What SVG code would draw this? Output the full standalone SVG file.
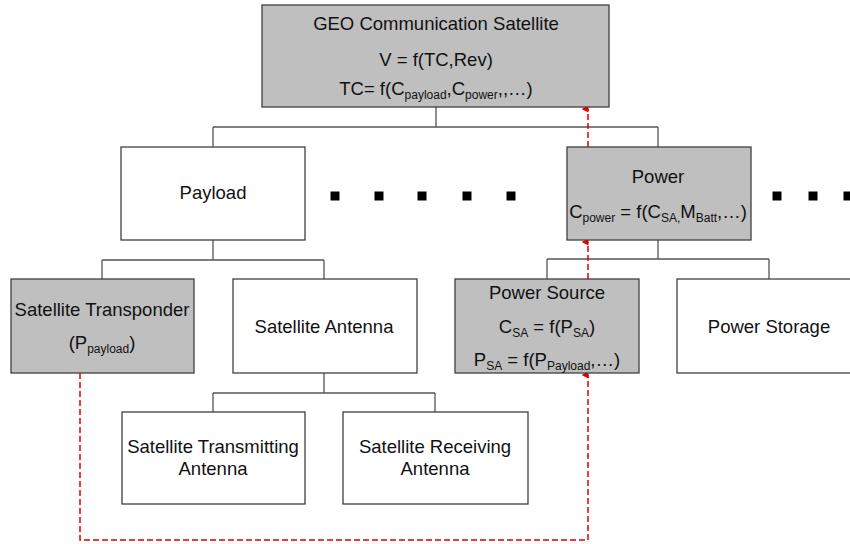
<svg xmlns="http://www.w3.org/2000/svg" width="850" height="544" viewBox="0 0 850 544">
<defs>
<style>
.box{stroke:#404040;stroke-width:1.3}
.g{fill:#bfbfbf}
.w{fill:#ffffff}
text{font-family:"Liberation Sans",Arial,sans-serif;font-size:18.5px;fill:#111;text-anchor:middle}
.s{font-size:12px}
.conn{fill:none;stroke:#555;stroke-width:1.3}
.red{fill:none;stroke:#e00000;stroke-width:1.5;stroke-dasharray:6 3}
.dot{fill:#000}
</style>
<marker id="ah" markerWidth="7" markerHeight="7" refX="3.5" refY="6.5" orient="auto-start-reverse" markerUnits="userSpaceOnUse" viewBox="0 0 7 7">
<path d="M0,7 L3.5,0 L7,7 Z" fill="#e00000"/>
</marker>
</defs>
<rect width="850" height="544" fill="#fff"/>
<g id="connectors">
<path class="conn" d="M436,107 V127 M213,127 H658 M213,127 V147 M658,127 V147"/>
<path class="conn" d="M213,240 V260 M102,260 H324 M102,260 V279 M324,260 V279"/>
<path class="conn" d="M658,240 V259 M547,259 H769 M547,259 V279 M769,259 V279"/>
<path class="conn" d="M324,373 V393 M213,393 H435 M213,393 V412 M435,393 V412"/>
<path class="red" d="M588,147 V109" marker-end="url(#ah)"/>
<path class="red" d="M588,279 V242" marker-end="url(#ah)"/>
<path class="red" d="M80,373 V540 H588 V375" marker-end="url(#ah)"/>
</g>
<g id="dots">
<rect class="dot" x="330.5" y="191.5" width="9" height="9"/>
<rect class="dot" x="374.5" y="191.5" width="9" height="9"/>
<rect class="dot" x="417.5" y="191.5" width="9" height="9"/>
<rect class="dot" x="462.5" y="191.5" width="9" height="9"/>
<rect class="dot" x="506.5" y="191.5" width="9" height="9"/>
<rect class="dot" x="772.5" y="191.5" width="9" height="9"/>
<rect class="dot" x="808.5" y="191.5" width="9" height="9"/>
<rect class="dot" x="843.5" y="191.5" width="9" height="9"/>
</g>
<g id="geo">
<rect class="box g" x="262" y="5" width="347" height="102"/>
<text x="436" y="30">GEO Communication Satellite</text>
<text x="436" y="66">V = f(TC,Rev)</text>
<text x="436" y="95">TC= f(C<tspan class="s" dy="4">payload</tspan><tspan dy="-4">,C</tspan><tspan class="s" dy="4">power</tspan><tspan dy="-4">,,…)</tspan></text>
</g>
<g id="payload">
<rect class="box w" x="121" y="147" width="184" height="93"/>
<text x="213" y="199">Payload</text>
</g>
<g id="power">
<rect class="box g" x="567" y="147" width="184" height="93"/>
<text x="658" y="183">Power</text>
<text x="658" y="218">C<tspan class="s" dy="4">power</tspan><tspan dy="-4"> = f(C</tspan><tspan class="s" dy="4">SA,</tspan><tspan dy="-4">M</tspan><tspan class="s" dy="4">Batt</tspan><tspan dy="-4">,…)</tspan></text>
</g>
<g id="transponder">
<rect class="box g" x="11" y="279" width="183" height="94"/>
<text x="102" y="316">Satellite Transponder</text>
<text x="102" y="349">(P<tspan class="s" dy="4">payload</tspan><tspan dy="-4">)</tspan></text>
</g>
<g id="antenna">
<rect class="box w" x="233" y="279" width="184" height="94"/>
<text x="324" y="333">Satellite Antenna</text>
</g>
<g id="powersource">
<rect class="box g" x="455" y="279" width="184" height="94"/>
<text x="547" y="299">Power Source</text>
<text x="547" y="333">C<tspan class="s" dy="4">SA</tspan><tspan dy="-4"> = f(P</tspan><tspan class="s" dy="4">SA</tspan><tspan dy="-4">)</tspan></text>
<text x="547" y="366">P<tspan class="s" dy="4">SA</tspan><tspan dy="-4"> = f(P</tspan><tspan class="s" dy="4">Payload</tspan><tspan dy="-4">,…)</tspan></text>
</g>
<g id="powerstorage">
<rect class="box w" x="677" y="279" width="180" height="94"/>
<text x="769" y="333">Power Storage</text>
</g>
<g id="transmitting">
<rect class="box w" x="122" y="412" width="183" height="92"/>
<text x="213" y="453">Satellite Transmitting</text>
<text x="213" y="475">Antenna</text>
</g>
<g id="receiving">
<rect class="box w" x="343" y="412" width="185" height="92"/>
<text x="435" y="453">Satellite Receiving</text>
<text x="435" y="475">Antenna</text>
</g>
</svg>
